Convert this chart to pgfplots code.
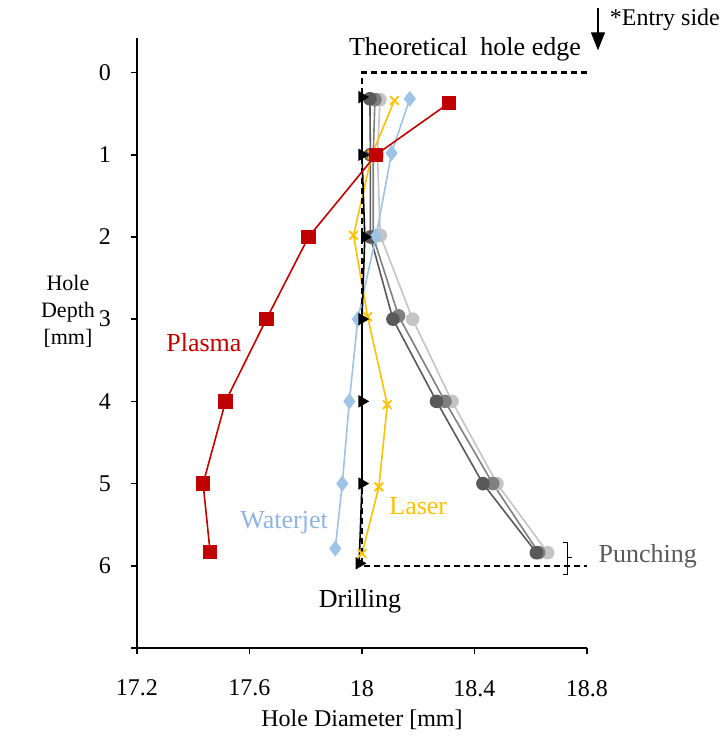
\documentclass[border=0pt]{standalone}
\usepackage{fontspec}
\setmainfont{Liberation Serif}
\usepackage{pgfplots}
\pgfplotsset{compat=1.18}
\usetikzlibrary{arrows.meta}
\definecolor{plasma}{HTML}{C00000}
\definecolor{water}{HTML}{9DC3E6}
\definecolor{watertext}{HTML}{8FB4E3}
\definecolor{laser}{HTML}{FFC000}
\definecolor{pdark}{HTML}{595959}
\definecolor{pmid}{HTML}{808080}
\definecolor{plight}{HTML}{C4C4C4}
\begin{document}
\begin{tikzpicture}
\useasboundingbox (-68.5pt,-46pt) rectangle (292pt,324pt);
\begin{axis}[
  at={(0,0)}, anchor=south west,
  scale only axis, width=225pt, height=305pt,
  xmin=17.2, xmax=18.8, ymin=-0.42, ymax=7, y dir=reverse,
  axis x line=bottom, axis y line=left,
  axis line style={-, line width=0.9pt, black},
  xtick={17.2,17.6,18,18.4,18.8}, xticklabels={17.2,17.6,18,18.4,18.8},
  ytick={0,1,2,3,4,5,6,7}, yticklabels={0,1,2,3,4,5,6,{}},
  tick align=outside, major tick length=3pt,
  tick style={black, line width=0.8pt},
  tick label style={font=\fontsize{12}{14}\selectfont},
  xticklabel style={yshift=-9.5pt},
  yticklabel style={xshift=-6.5pt},
  clip=false,
  every axis plot/.append style={line width=0.8pt},
]
% Punching (three specimens)
\addplot[plight, mark=*, mark size=3pt, mark options={fill=plight, draw=plight}] coordinates {
(18.064,0.33) (18.055,1.0) (18.065,1.98) (18.18,3.0) (18.32,4.0) (18.48,5.0) (18.66,5.84)};
\addplot[pmid, mark=*, mark size=3pt, mark options={fill=pmid, draw=pmid}] coordinates {
(18.046,0.33) (18.04,1.0) (18.04,2.0) (18.13,2.96) (18.295,4.0) (18.465,5.0) (18.628,5.84)};
\addplot[pdark, mark=*, mark size=3pt, mark options={fill=pdark, draw=pdark}] coordinates {
(18.028,0.32) (18.03,1.0) (18.03,2.0) (18.11,3.0) (18.265,4.0) (18.43,5.0) (18.62,5.84)};
% Waterjet
\addplot[water, mark=diamond*, mark size=3.4pt, mark options={fill=water, draw=water}] coordinates {
(18.17,0.32) (18.105,0.98) (18.05,1.99) (17.985,3.0) (17.955,4.0) (17.93,5.0) (17.905,5.79)};
% Laser
\addplot[laser, mark=x, mark size=3pt, mark options={line width=0.9pt}] coordinates {
(18.115,0.34) (18.035,1.0) (17.97,1.98) (18.02,2.97) (18.09,4.04) (18.06,5.04) (18.0,5.85)};
% Drilling
\addplot[black, mark=triangle*, mark size=2.8pt, mark options={rotate=-90, fill=black}] coordinates {
(18.0,0.3) (18.0,1.0) (18.01,2.0) (18.0,3.0) (18.0,4.0) (18.0,5.0) (17.99,5.97)};
% Theoretical hole edge
\addplot[black, dash pattern=on 3pt off 2pt, line width=1.1pt, no marks] coordinates {
(18.8,0) (18.0,0) (18.0,6) (18.8,6)};
% Plasma
\addplot[plasma, mark=square*, mark size=3.2pt, mark options={fill=plasma, draw=plasma}] coordinates {
(18.31,0.37) (18.05,1.0) (17.81,2.0) (17.66,3.0) (17.515,4.0) (17.435,5.0) (17.46,5.83)};

% annotations
\node[font=\fontsize{13}{15}\selectfont] at (axis cs:18.366,-0.28) {Theoretical\ \ hole edge};
\draw[line width=0.6pt, -{Triangle[width=7pt,length=9pt]}] (axis cs:18.839,-0.79) -- (axis cs:18.839,-0.27);
\node[font=\fontsize{12}{14}\selectfont, anchor=west, inner sep=0pt] at (axis cs:18.88,-0.64) {*Entry side};
\node[font=\fontsize{13}{15}\selectfont, text=plasma] at (axis cs:17.438,3.28) {Plasma};
\node[font=\fontsize{13}{15}\selectfont, text=watertext] at (axis cs:17.723,5.48) {Waterjet};
\node[font=\fontsize{13}{15}\selectfont, text=laser] at (axis cs:18.2,5.28) {Laser};
\node[font=\fontsize{13}{15}\selectfont] at (axis cs:17.993,6.43) {Drilling};
\node[font=\fontsize{13}{15}\selectfont, text=pdark, anchor=west, inner sep=0pt] at (axis cs:18.84,5.89) {Punching};
\draw[line width=0.6pt, black] (axis cs:18.715,5.72) -- (axis cs:18.732,5.72) -- (axis cs:18.732,6.11) -- (axis cs:18.715,6.11);
\draw[line width=0.6pt, black] (axis cs:18.732,5.9) -- (axis cs:18.745,5.9);
\node[font=\fontsize{12}{14}\selectfont] at ([yshift=-36pt]axis cs:18.0,7) {Hole Diameter [mm]};
\node[font=\fontsize{11}{13.5}\selectfont, align=center, inner sep=0pt] at ([xshift=-34.5pt]axis cs:17.2,2.9) {Hole\\Depth\\{[mm]}};
\end{axis}
\end{tikzpicture}
\end{document}
